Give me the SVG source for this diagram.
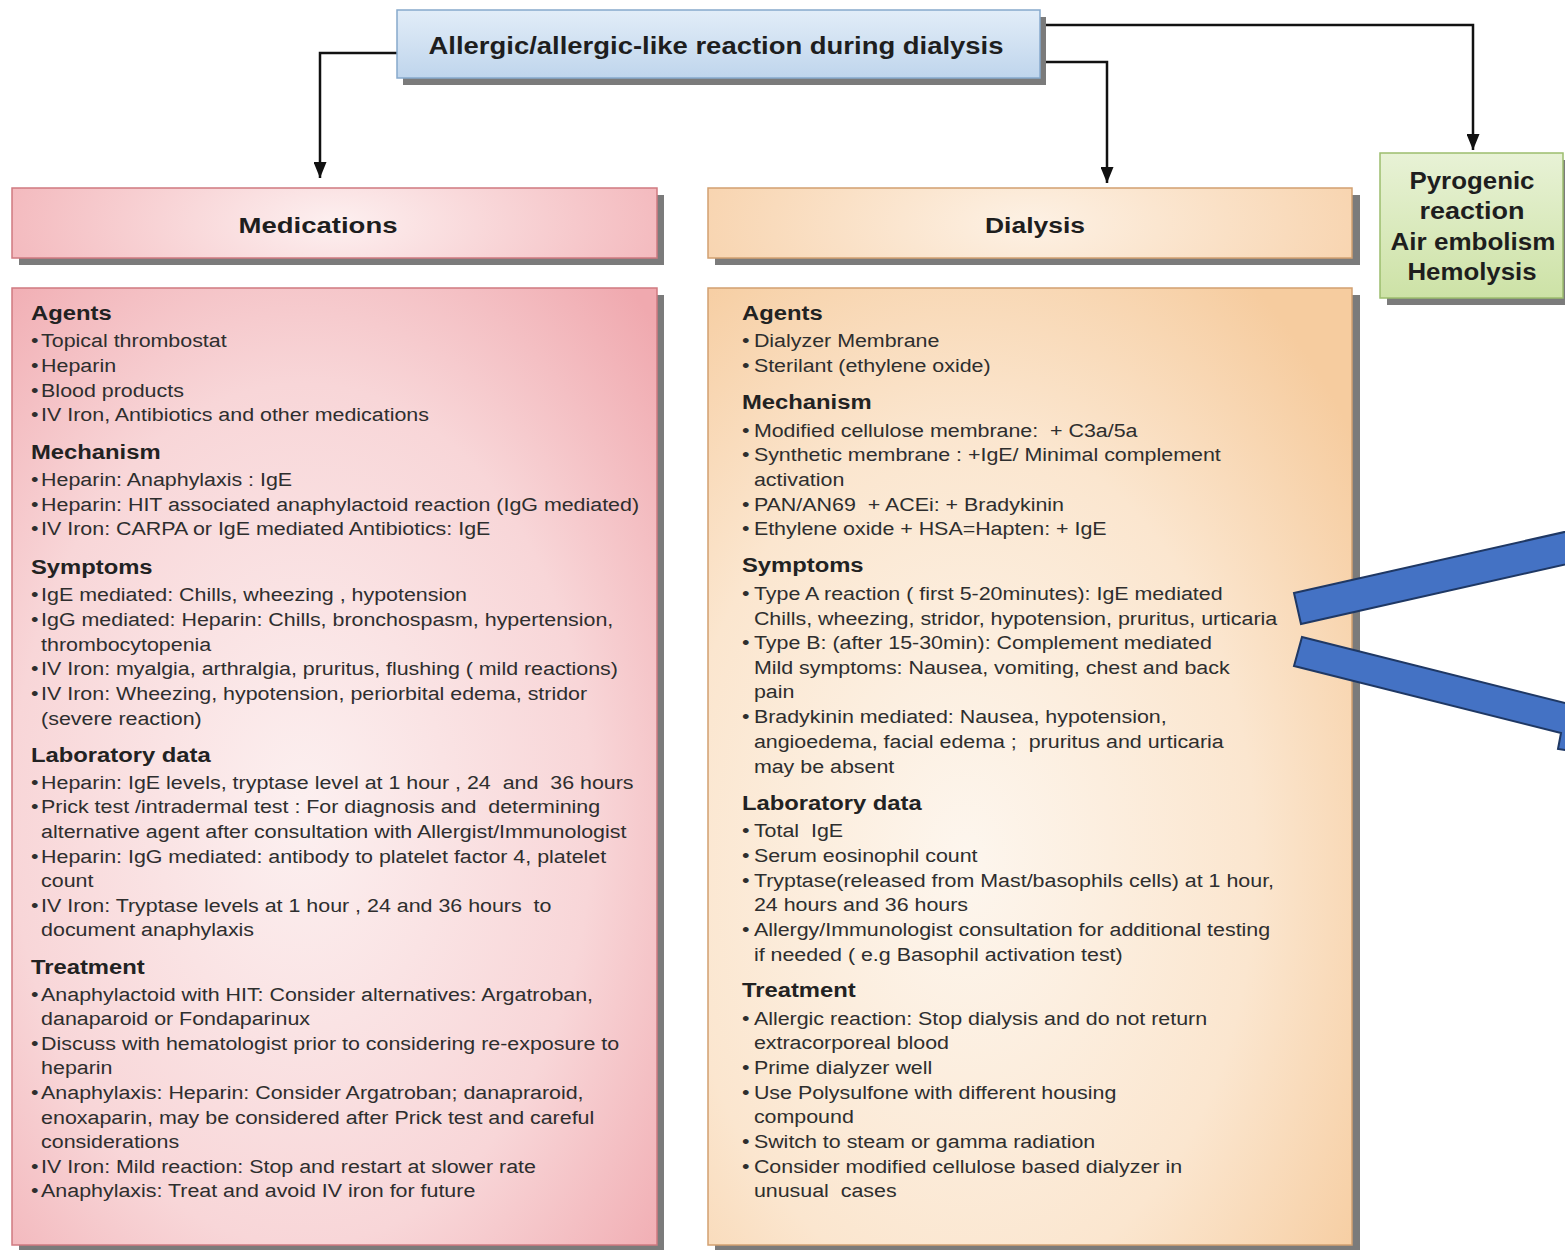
<svg xmlns="http://www.w3.org/2000/svg" width="1565" height="1250" viewBox="0 0 1565 1250">
<defs>
<linearGradient id="gTitle" x1="0" y1="0" x2="0" y2="1"><stop offset="0" stop-color="#e2edf8"/><stop offset="1" stop-color="#bfd5ec"/></linearGradient>
<radialGradient id="gMedH" cx="0.5" cy="0.5" r="0.6" gradientTransform="translate(0.5,0.5) scale(1,4) translate(-0.5,-0.5)"><stop offset="0" stop-color="#fdf0f0"/><stop offset="1" stop-color="#f2b1b6"/></radialGradient>
<radialGradient id="gMedC" cx="0.45" cy="0.55" r="0.75"><stop offset="0" stop-color="#fcf0f0"/><stop offset="0.6" stop-color="#f8d6d8"/><stop offset="1" stop-color="#f0a9af"/></radialGradient>
<radialGradient id="gDiaH" cx="0.5" cy="0.5" r="0.6" gradientTransform="translate(0.5,0.5) scale(1,4) translate(-0.5,-0.5)"><stop offset="0" stop-color="#fdf1e4"/><stop offset="1" stop-color="#f7d0a8"/></radialGradient>
<radialGradient id="gDiaC" cx="0.4" cy="0.6" r="0.75"><stop offset="0" stop-color="#fdf6ee"/><stop offset="0.6" stop-color="#fbe6cf"/><stop offset="1" stop-color="#f6cc9f"/></radialGradient>
<linearGradient id="gPyro" x1="0" y1="0" x2="0" y2="1"><stop offset="0" stop-color="#e8f2d6"/><stop offset="1" stop-color="#cde2a6"/></linearGradient>
<marker id="ah" viewBox="0 0 13 16" refX="6.5" refY="16" markerWidth="13" markerHeight="16" orient="0" markerUnits="userSpaceOnUse"><path d="M0,0 L13,0 L6.5,16 z" fill="#111"/></marker>
</defs>
<style>
.sh{fill:#7b7b7b}
.ttl{font-family:"Liberation Sans",Arial,sans-serif;font-weight:bold;fill:#1e1e1e;text-anchor:middle}
.hd{font-family:"Liberation Sans",Arial,sans-serif;font-weight:bold;font-size:20px;fill:#222}
.tx{font-family:"Liberation Sans",Arial,sans-serif;font-size:18px;fill:#2e2e2e;white-space:pre}
.con{fill:none;stroke:#111;stroke-width:2.5}
.blue{fill:#4472c4;stroke:#1f3864;stroke-width:2;stroke-linejoin:miter}
</style>
<rect width="1565" height="1250" fill="#ffffff"/>

<g id="connectors">
<polyline class="con" points="397,53 320,53 320,178" marker-end="url(#ah)"/>
<polyline class="con" points="1040,62 1107,62 1107,183" marker-end="url(#ah)"/>
<polyline class="con" points="1040,25 1473,25 1473,150" marker-end="url(#ah)"/>
</g>

<g id="title">
<rect class="sh" x="403" y="17" width="643" height="68"/>
<rect x="397" y="10" width="643" height="68" fill="url(#gTitle)" stroke="#86a9cc" stroke-width="1.5"/>
<text class="ttl" x="716" y="54" font-size="23" textLength="575" lengthAdjust="spacingAndGlyphs">Allergic/allergic-like reaction during dialysis</text>
</g>

<g id="medications-header">
<rect class="sh" x="19" y="195" width="645" height="70"/>
<rect x="12" y="188" width="645" height="70" fill="url(#gMedH)" stroke="#cf7a80" stroke-width="1.5"/>
<text class="ttl" x="318" y="233" font-size="22" textLength="159" lengthAdjust="spacingAndGlyphs">Medications</text>
</g>

<g id="dialysis-header">
<rect class="sh" x="715" y="195" width="645" height="70"/>
<rect x="708" y="188" width="644" height="70" fill="url(#gDiaH)" stroke="#d2a070" stroke-width="1.5"/>
<text class="ttl" x="1035" y="233" font-size="22" textLength="100" lengthAdjust="spacingAndGlyphs">Dialysis</text>
</g>

<g id="pyrogenic">
<rect class="sh" x="1387" y="160" width="185" height="145"/>
<rect x="1380" y="153" width="183" height="145" fill="url(#gPyro)" stroke="#9cbd6e" stroke-width="1.5"/>
<text class="ttl" x="1472" y="189" font-size="23" textLength="125" lengthAdjust="spacingAndGlyphs">Pyrogenic</text>
<text class="ttl" x="1472" y="219" font-size="23" textLength="105" lengthAdjust="spacingAndGlyphs">reaction</text>
<text class="ttl" x="1473" y="250" font-size="23" textLength="165" lengthAdjust="spacingAndGlyphs">Air embolism</text>
<text class="ttl" x="1472" y="280" font-size="23" textLength="129" lengthAdjust="spacingAndGlyphs">Hemolysis</text>
</g>

<g id="medications-content">
<rect class="sh" x="19" y="295" width="645" height="960"/>
<rect x="12" y="288" width="645" height="957" fill="url(#gMedC)" stroke="#cf7a80" stroke-width="1.5"/>
<g transform="translate(31,0) scale(1.19,1)">
<text class="hd" x="0" y="320">Agents</text>
<text class="tx" x="0" y="347">•</text><text class="tx" x="8.5" y="347">Topical thrombostat</text>
<text class="tx" x="0" y="372">•</text><text class="tx" x="8.5" y="372">Heparin</text>
<text class="tx" x="0" y="397">•</text><text class="tx" x="8.5" y="397">Blood products</text>
<text class="tx" x="0" y="421">•</text><text class="tx" x="8.5" y="421">IV Iron, Antibiotics and other medications</text>
<text class="hd" x="0" y="459">Mechanism</text>
<text class="tx" x="0" y="486">•</text><text class="tx" x="8.5" y="486">Heparin: Anaphylaxis : IgE</text>
<text class="tx" x="0" y="511">•</text><text class="tx" x="8.5" y="511">Heparin: HIT associated anaphylactoid reaction (IgG mediated)</text>
<text class="tx" x="0" y="535">•</text><text class="tx" x="8.5" y="535">IV Iron: CARPA or IgE mediated Antibiotics: IgE</text>
<text class="hd" x="0" y="574">Symptoms</text>
<text class="tx" x="0" y="601">•</text><text class="tx" x="8.5" y="601">IgE mediated: Chills, wheezing , hypotension</text>
<text class="tx" x="0" y="626">•</text><text class="tx" x="8.5" y="626">IgG mediated: Heparin: Chills, bronchospasm, hypertension,</text>
<text class="tx" x="8.5" y="651">thrombocytopenia</text>
<text class="tx" x="0" y="675">•</text><text class="tx" x="8.5" y="675">IV Iron: myalgia, arthralgia, pruritus, flushing ( mild reactions)</text>
<text class="tx" x="0" y="700">•</text><text class="tx" x="8.5" y="700">IV Iron: Wheezing, hypotension, periorbital edema, stridor</text>
<text class="tx" x="8.5" y="725">(severe reaction)</text>
<text class="hd" x="0" y="762">Laboratory data</text>
<text class="tx" x="0" y="789">•</text><text class="tx" x="8.5" y="789">Heparin: IgE levels, tryptase level at 1 hour , 24  and  36 hours</text>
<text class="tx" x="0" y="813">•</text><text class="tx" x="8.5" y="813">Prick test /intradermal test : For diagnosis and  determining</text>
<text class="tx" x="8.5" y="838">alternative agent after consultation with Allergist/Immunologist</text>
<text class="tx" x="0" y="863">•</text><text class="tx" x="8.5" y="863">Heparin: IgG mediated: antibody to platelet factor 4, platelet</text>
<text class="tx" x="8.5" y="887">count</text>
<text class="tx" x="0" y="912">•</text><text class="tx" x="8.5" y="912">IV Iron: Tryptase levels at 1 hour , 24 and 36 hours  to</text>
<text class="tx" x="8.5" y="936">document anaphylaxis</text>
<text class="hd" x="0" y="974">Treatment</text>
<text class="tx" x="0" y="1001">•</text><text class="tx" x="8.5" y="1001">Anaphylactoid with HIT: Consider alternatives: Argatroban,</text>
<text class="tx" x="8.5" y="1025">danaparoid or Fondaparinux</text>
<text class="tx" x="0" y="1050">•</text><text class="tx" x="8.5" y="1050">Discuss with hematologist prior to considering re-exposure to</text>
<text class="tx" x="8.5" y="1074">heparin</text>
<text class="tx" x="0" y="1099">•</text><text class="tx" x="8.5" y="1099">Anaphylaxis: Heparin: Consider Argatroban; danapraroid,</text>
<text class="tx" x="8.5" y="1124">enoxaparin, may be considered after Prick test and careful</text>
<text class="tx" x="8.5" y="1148">considerations</text>
<text class="tx" x="0" y="1173">•</text><text class="tx" x="8.5" y="1173">IV Iron: Mild reaction: Stop and restart at slower rate</text>
<text class="tx" x="0" y="1197">•</text><text class="tx" x="8.5" y="1197">Anaphylaxis: Treat and avoid IV iron for future</text>
</g>
</g>

<g id="dialysis-content">
<rect class="sh" x="715" y="295" width="645" height="960"/>
<rect x="708" y="288" width="644" height="957" fill="url(#gDiaC)" stroke="#d2a070" stroke-width="1.5"/>
<g transform="translate(742,0) scale(1.19,1)">
<text class="hd" x="0" y="320">Agents</text>
<text class="tx" x="0" y="347">•</text><text class="tx" x="10" y="347">Dialyzer Membrane</text>
<text class="tx" x="0" y="372">•</text><text class="tx" x="10" y="372">Sterilant (ethylene oxide)</text>
<text class="hd" x="0" y="409">Mechanism</text>
<text class="tx" x="0" y="437">•</text><text class="tx" x="10" y="437">Modified cellulose membrane:  + C3a/5a</text>
<text class="tx" x="0" y="461">•</text><text class="tx" x="10" y="461">Synthetic membrane : +IgE/ Minimal complement</text>
<text class="tx" x="10" y="486">activation</text>
<text class="tx" x="0" y="511">•</text><text class="tx" x="10" y="511">PAN/AN69  + ACEi: + Bradykinin</text>
<text class="tx" x="0" y="535">•</text><text class="tx" x="10" y="535">Ethylene oxide + HSA=Hapten: + IgE</text>
<text class="hd" x="0" y="572">Symptoms</text>
<text class="tx" x="0" y="600">•</text><text class="tx" x="10" y="600">Type A reaction ( first 5-20minutes): IgE mediated</text>
<text class="tx" x="10" y="625">Chills, wheezing, stridor, hypotension, pruritus, urticaria</text>
<text class="tx" x="0" y="649">•</text><text class="tx" x="10" y="649">Type B: (after 15-30min): Complement mediated</text>
<text class="tx" x="10" y="674">Mild symptoms: Nausea, vomiting, chest and back</text>
<text class="tx" x="10" y="698">pain</text>
<text class="tx" x="0" y="723">•</text><text class="tx" x="10" y="723">Bradykinin mediated: Nausea, hypotension,</text>
<text class="tx" x="10" y="748">angioedema, facial edema ;  pruritus and urticaria</text>
<text class="tx" x="10" y="773">may be absent</text>
<text class="hd" x="0" y="810">Laboratory data</text>
<text class="tx" x="0" y="837">•</text><text class="tx" x="10" y="837">Total  IgE</text>
<text class="tx" x="0" y="862">•</text><text class="tx" x="10" y="862">Serum eosinophil count</text>
<text class="tx" x="0" y="887">•</text><text class="tx" x="10" y="887">Tryptase(released from Mast/basophils cells) at 1 hour,</text>
<text class="tx" x="10" y="911">24 hours and 36 hours</text>
<text class="tx" x="0" y="936">•</text><text class="tx" x="10" y="936">Allergy/Immunologist consultation for additional testing</text>
<text class="tx" x="10" y="961">if needed ( e.g Basophil activation test)</text>
<text class="hd" x="0" y="997">Treatment</text>
<text class="tx" x="0" y="1025">•</text><text class="tx" x="10" y="1025">Allergic reaction: Stop dialysis and do not return</text>
<text class="tx" x="10" y="1049">extracorporeal blood</text>
<text class="tx" x="0" y="1074">•</text><text class="tx" x="10" y="1074">Prime dialyzer well</text>
<text class="tx" x="0" y="1099">•</text><text class="tx" x="10" y="1099">Use Polysulfone with different housing</text>
<text class="tx" x="10" y="1123">compound</text>
<text class="tx" x="0" y="1148">•</text><text class="tx" x="10" y="1148">Switch to steam or gamma radiation</text>
<text class="tx" x="0" y="1173">•</text><text class="tx" x="10" y="1173">Consider modified cellulose based dialyzer in</text>
<text class="tx" x="10" y="1197">unusual  cases</text>
</g>
</g>

<g id="blue-arrows">
<polygon class="blue" points="1294,593 1600,524 1607,555 1301,624"/>
<polygon class="blue" points="1302,637 1569,704 1600,690 1640,760 1558,749 1561,733 1294,666"/>
</g>
</svg>
